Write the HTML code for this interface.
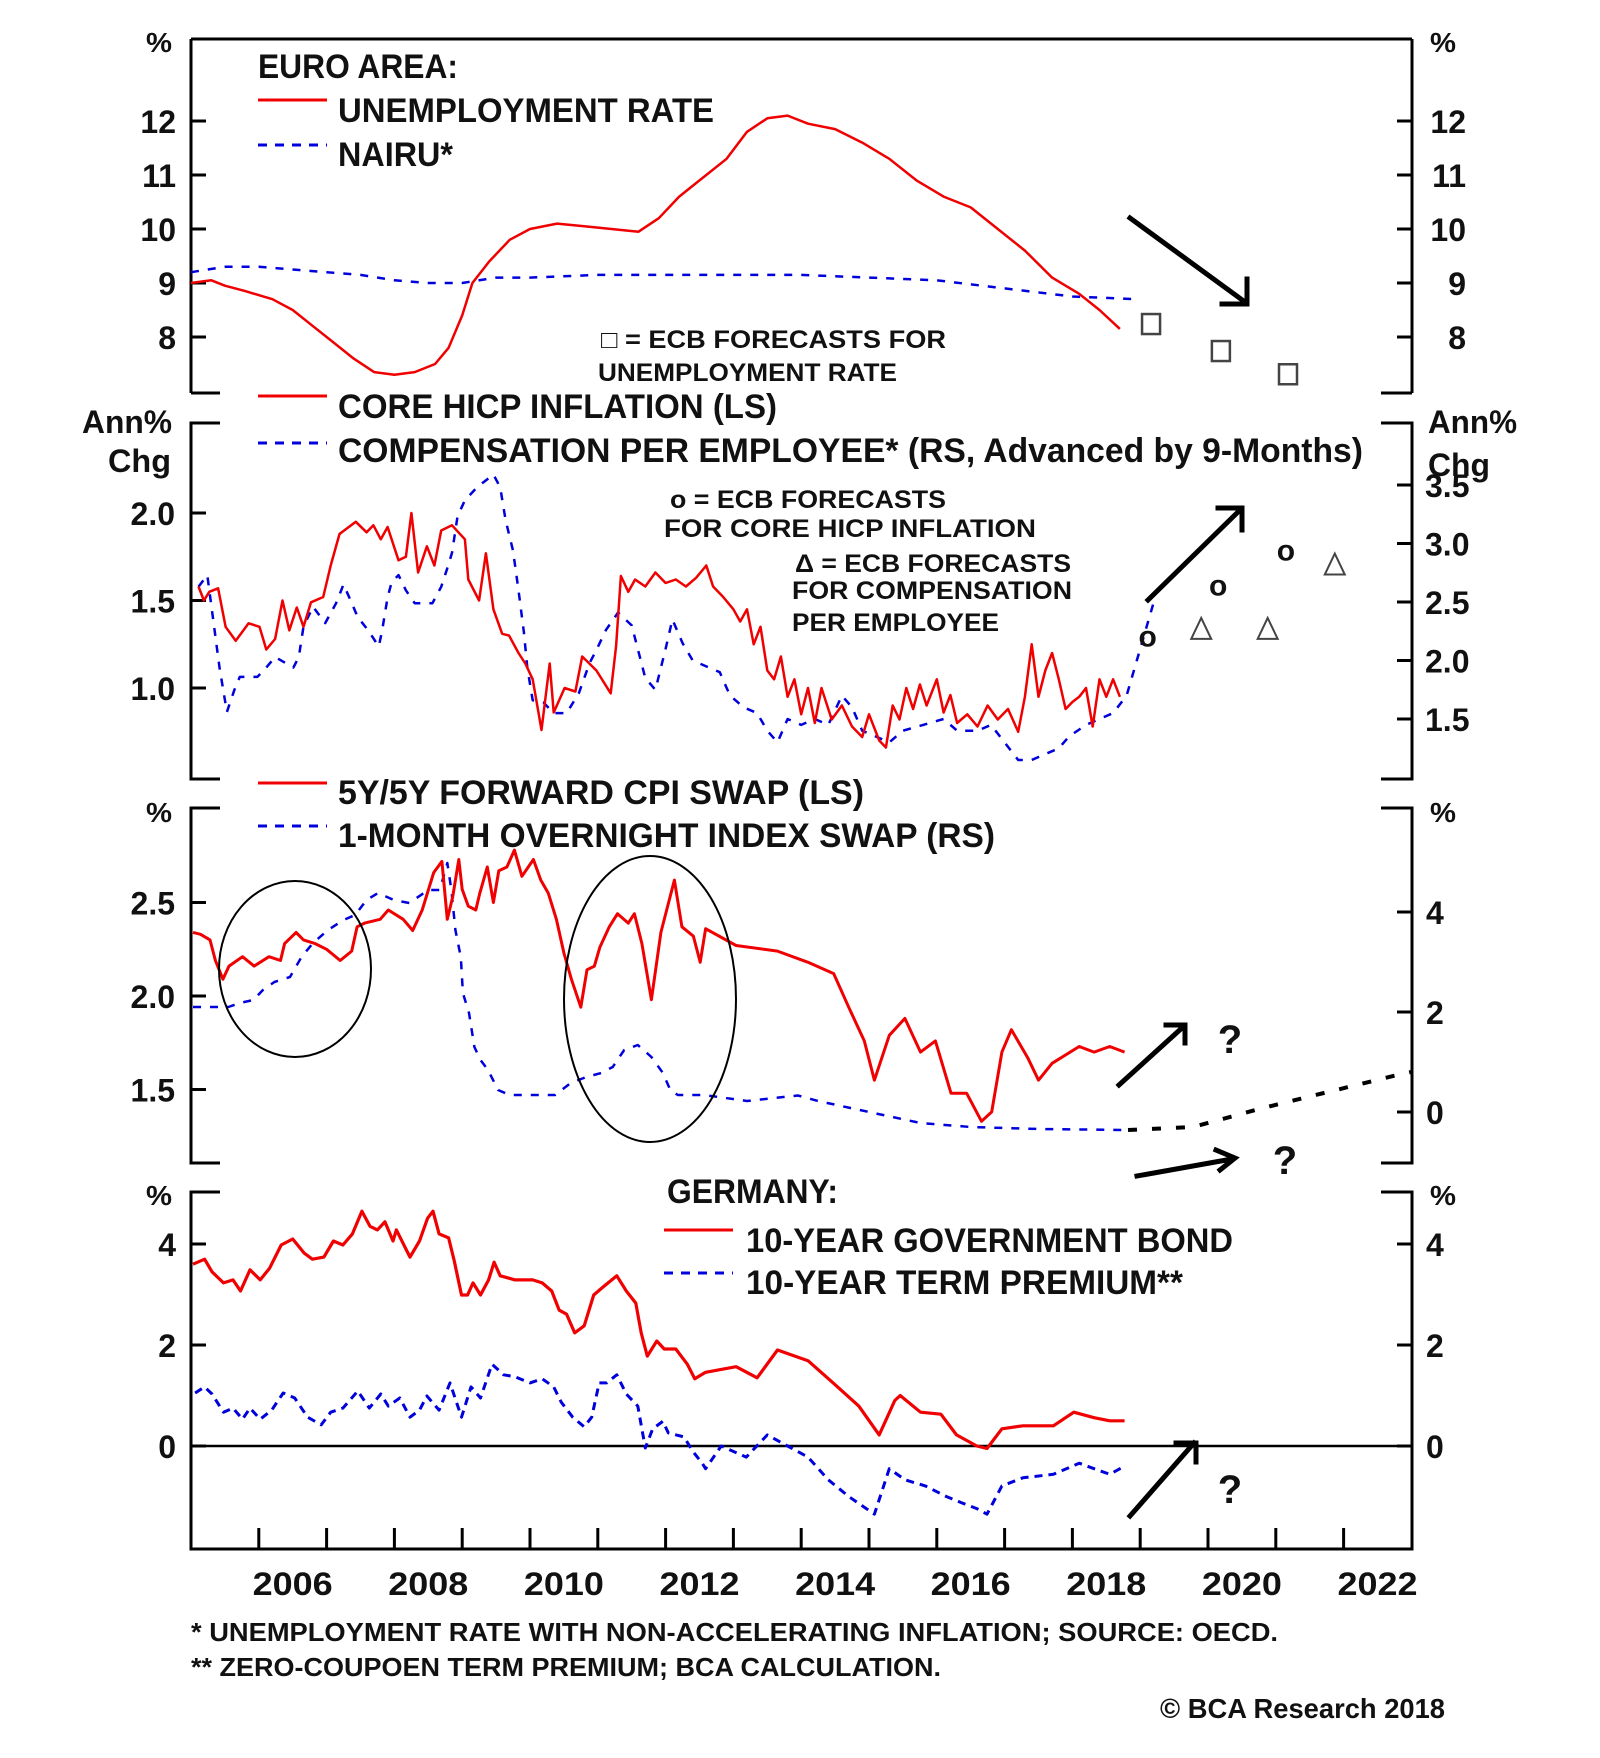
<!DOCTYPE html>
<html><head><meta charset="utf-8"><style>
html,body{margin:0;padding:0;background:#fff;}
svg{display:block;font-family:"Liberation Sans",Arial,sans-serif;font-weight:bold;}
</style></head><body>
<svg id="chart" width="1600" height="1758" viewBox="0 0 1600 1758" xmlns="http://www.w3.org/2000/svg">
<rect x="0" y="0" width="1600" height="1758" fill="#fff"/>
<g id="frames" stroke="#000" stroke-width="3" fill="none">
  <!-- panel 1 -->
  <path d="M191,39 H1412 M191,39 V393 M1412,39 V393 M191,393 H220 M1381,393 H1412"/>
  <!-- panel 2 -->
  <path d="M220,423 H191 V779 H220 M1381,423 H1412 V779 H1381"/>
  <!-- panel 3 -->
  <path d="M220,808 H191 V1163 H220 M1381,808 H1412 V1163 H1381"/>
  <!-- panel 4 -->
  <path d="M220,1192 H191 V1549 H1412 V1192 H1381"/>
</g>
<g id="ticks" stroke="#000" stroke-width="3"></g>
<g id="labels" font-size="32" fill="#111"></g>
<g id="marks"></g>

<!-- titles and legends -->
<g fill="#111">
<text x="146" y="52" font-size="28" textLength="26" lengthAdjust="spacingAndGlyphs">%</text>
<text x="1430" y="52" font-size="28" textLength="26" lengthAdjust="spacingAndGlyphs">%</text>
<text x="258" y="78" font-size="34" textLength="200" lengthAdjust="spacingAndGlyphs">EURO AREA:</text>
<line x1="258" y1="100" x2="327" y2="100" stroke="#f00000" stroke-width="3"/>
<text x="338" y="122" font-size="34" textLength="376" lengthAdjust="spacingAndGlyphs">UNEMPLOYMENT RATE</text>
<line x1="258" y1="145" x2="327" y2="145" stroke="#0000dd" stroke-width="3" stroke-dasharray="9 8"/>
<text x="338" y="166" font-size="34" textLength="115" lengthAdjust="spacingAndGlyphs">NAIRU*</text>
<text x="601" y="348" font-size="25" textLength="345" lengthAdjust="spacingAndGlyphs">□ = ECB FORECASTS FOR</text>
<text x="598" y="381" font-size="25" textLength="299" lengthAdjust="spacingAndGlyphs">UNEMPLOYMENT RATE</text>

<line x1="258" y1="396" x2="327" y2="396" stroke="#f00000" stroke-width="3"/>
<text x="338" y="418" font-size="34" textLength="439" lengthAdjust="spacingAndGlyphs">CORE HICP INFLATION (LS)</text>
<line x1="258" y1="443" x2="327" y2="443" stroke="#0000dd" stroke-width="3" stroke-dasharray="9 8"/>
<text x="338" y="462" font-size="34" textLength="1025" lengthAdjust="spacingAndGlyphs">COMPENSATION PER EMPLOYEE* (RS, Advanced by 9-Months)</text>
<text x="82" y="433" font-size="32" textLength="90" lengthAdjust="spacingAndGlyphs">Ann%</text>
<text x="108" y="472" font-size="32" textLength="63" lengthAdjust="spacingAndGlyphs">Chg</text>
<text x="1428" y="433" font-size="32" textLength="89" lengthAdjust="spacingAndGlyphs">Ann%</text>
<text x="1428" y="476" font-size="32" textLength="62" lengthAdjust="spacingAndGlyphs">Chg</text>
<text x="670" y="508" font-size="25" textLength="276" lengthAdjust="spacingAndGlyphs">o = ECB FORECASTS</text>
<text x="664" y="537" font-size="25" textLength="372" lengthAdjust="spacingAndGlyphs">FOR CORE HICP INFLATION</text>
<text x="795" y="572" font-size="25" textLength="276" lengthAdjust="spacingAndGlyphs">Δ = ECB FORECASTS</text>
<text x="792" y="599" font-size="25" textLength="280" lengthAdjust="spacingAndGlyphs">FOR COMPENSATION</text>
<text x="792" y="631" font-size="25" textLength="207" lengthAdjust="spacingAndGlyphs">PER EMPLOYEE</text>

<line x1="258" y1="783" x2="327" y2="783" stroke="#f00000" stroke-width="3"/>
<text x="338" y="804" font-size="34" textLength="526" lengthAdjust="spacingAndGlyphs">5Y/5Y FORWARD CPI SWAP (LS)</text>
<line x1="258" y1="826" x2="327" y2="826" stroke="#0000dd" stroke-width="3" stroke-dasharray="9 8"/>
<text x="338" y="847" font-size="34" textLength="657" lengthAdjust="spacingAndGlyphs">1-MONTH OVERNIGHT INDEX SWAP (RS)</text>
<text x="146" y="822" font-size="28" textLength="26" lengthAdjust="spacingAndGlyphs">%</text>
<text x="1430" y="822" font-size="28" textLength="26" lengthAdjust="spacingAndGlyphs">%</text>

<text x="146" y="1205" font-size="28" textLength="26" lengthAdjust="spacingAndGlyphs">%</text>
<text x="1430" y="1205" font-size="28" textLength="26" lengthAdjust="spacingAndGlyphs">%</text>
<text x="667" y="1203" font-size="34" textLength="171" lengthAdjust="spacingAndGlyphs">GERMANY:</text>
<line x1="664" y1="1230" x2="733" y2="1230" stroke="#f00000" stroke-width="3"/>
<text x="746" y="1252" font-size="34" textLength="487" lengthAdjust="spacingAndGlyphs">10-YEAR GOVERNMENT BOND</text>
<line x1="664" y1="1273" x2="733" y2="1273" stroke="#0000dd" stroke-width="3" stroke-dasharray="9 8"/>
<text x="746" y="1294" font-size="34" textLength="437" lengthAdjust="spacingAndGlyphs">10-YEAR TERM PREMIUM**</text>

<text x="191" y="1641" font-size="26" textLength="1087" lengthAdjust="spacingAndGlyphs">*  UNEMPLOYMENT RATE WITH NON-ACCELERATING INFLATION; SOURCE: OECD.</text>
<text x="191" y="1676" font-size="26" textLength="750" lengthAdjust="spacingAndGlyphs">** ZERO-COUPOEN TERM PREMIUM; BCA CALCULATION.</text>
<text x="1160" y="1718" font-size="28" textLength="285" lengthAdjust="spacingAndGlyphs">© BCA Research 2018</text>

<text x="1230" y="1053" font-size="40" text-anchor="middle">?</text>
<text x="1285" y="1174" font-size="40" text-anchor="middle">?</text>
<text x="1230" y="1503" font-size="40" text-anchor="middle">?</text>
</g>

<g stroke="#000" stroke-width="2" fill="none">
<ellipse cx="295" cy="969" rx="76" ry="88"/>
<ellipse cx="650" cy="999" rx="86" ry="143"/>
</g>
<g stroke="#000" stroke-width="5" fill="none" stroke-linecap="square">
<path d="M1130,218 L1245,302 M1222,304 H1247 V279"/>
<path d="M1148,600 L1240,510 M1218,508 H1242 V530"/>
<path d="M1119,1085 L1183,1027 M1166,1025 H1185 V1043"/>
<path d="M1137,1176 L1232,1159 M1216,1150 L1235,1158 L1220,1170"/>
<path d="M1130,1516 L1194,1443 M1176,1443 H1196 V1462"/>
</g>

<script>
// ---- shared x-axis ----
const yearTicks = [2006,2007,2008,2009,2010,2011,2012,2013,2014,2015,2016,2017,2018,2019,2020,2021,2022];
const yearLabels = [2006,2008,2010,2012,2014,2016,2018,2020,2022];

// ---- panel 1: unemployment ----
const unempX = [2005.0,2005.3,2005.5,2005.8,2006.2,2006.5,2006.8,2007.1,2007.4,2007.7,2008.0,2008.3,2008.6,2008.8,2009.0,2009.15,2009.4,2009.7,2010.0,2010.4,2010.8,2011.2,2011.6,2011.9,2012.2,2012.5,2012.9,2013.2,2013.5,2013.8,2014.1,2014.5,2014.9,2015.3,2015.7,2016.1,2016.5,2016.9,2017.3,2017.7,2018.1,2018.4,2018.7];
const unempY = [9.0,9.05,8.95,8.85,8.7,8.5,8.2,7.9,7.6,7.35,7.3,7.35,7.5,7.8,8.4,9.0,9.4,9.8,10.0,10.1,10.05,10.0,9.95,10.2,10.6,10.9,11.3,11.8,12.05,12.1,11.95,11.85,11.6,11.3,10.9,10.6,10.4,10.0,9.6,9.1,8.8,8.5,8.15];
const nairuX = [2005.0,2005.5,2006.0,2006.5,2007.0,2007.5,2008.0,2008.5,2009.0,2009.5,2010.0,2011.0,2012.0,2013.0,2014.0,2015.0,2016.0,2017.0,2018.0,2018.95];
const nairuY = [9.2,9.3,9.3,9.25,9.2,9.15,9.05,9.0,9.0,9.1,9.1,9.15,9.15,9.15,9.15,9.1,9.05,8.9,8.75,8.7];
const ecbUnempX = [2019.16,2020.19,2021.18];
const ecbUnempY = [8.24,7.74,7.31];
const p1Ticks = [12,11,10,9,8];

// ---- panel 2: core inflation & compensation ----
const coreX = [2005.11,2005.19,2005.27,2005.40,2005.51,2005.66,2005.85,2006.01,2006.11,2006.24,2006.35,2006.45,2006.56,2006.66,2006.77,2006.95,2007.06,2007.19,2007.43,2007.59,2007.69,2007.80,2007.90,2008.06,2008.17,2008.25,2008.35,2008.48,2008.59,2008.69,2008.85,2009.04,2009.09,2009.25,2009.35,2009.46,2009.59,2009.69,2009.83,2009.93,2010.04,2010.17,2010.29,2010.35,2010.51,2010.67,2010.77,2010.98,2011.19,2011.27,2011.34,2011.45,2011.55,2011.7,2011.85,2012.0,2012.15,2012.3,2012.45,2012.6,2012.7,2012.85,2013.0,2013.1,2013.2,2013.3,2013.4,2013.5,2013.6,2013.7,2013.8,2013.9,2014.0,2014.1,2014.2,2014.3,2014.45,2014.6,2014.75,2014.9,2015.0,2015.15,2015.25,2015.35,2015.45,2015.55,2015.65,2015.75,2015.85,2016.0,2016.1,2016.2,2016.3,2016.45,2016.6,2016.75,2016.9,2017.05,2017.2,2017.3,2017.4,2017.5,2017.6,2017.7,2017.8,2017.9,2018.0,2018.1,2018.2,2018.3,2018.4,2018.5,2018.6,2018.7];
const coreY = [1.58,1.50,1.55,1.57,1.35,1.27,1.37,1.35,1.22,1.28,1.50,1.33,1.46,1.35,1.49,1.52,1.70,1.88,1.95,1.89,1.93,1.85,1.92,1.73,1.75,2.0,1.66,1.81,1.70,1.90,1.93,1.85,1.62,1.50,1.77,1.45,1.31,1.30,1.20,1.14,1.05,0.76,1.14,0.86,1.0,0.98,1.18,1.10,0.97,1.24,1.64,1.55,1.62,1.58,1.66,1.6,1.62,1.58,1.63,1.70,1.58,1.52,1.45,1.38,1.45,1.25,1.35,1.1,1.05,1.18,0.95,1.05,0.85,1.0,0.8,1.0,0.82,0.9,0.78,0.72,0.85,0.7,0.66,0.9,0.82,1.0,0.88,1.02,0.9,1.05,0.86,0.96,0.8,0.85,0.78,0.9,0.82,0.88,0.75,0.95,1.25,0.95,1.1,1.2,1.05,0.88,0.92,0.95,1.0,0.78,1.05,0.95,1.05,0.95];
const compX = [2005.11,2005.24,2005.34,2005.42,2005.53,2005.64,2005.72,2005.98,2006.11,2006.24,2006.51,2006.59,2006.66,2006.80,2006.98,2007.14,2007.25,2007.35,2007.46,2007.61,2007.77,2007.82,2007.90,2007.96,2008.06,2008.17,2008.30,2008.56,2008.69,2008.77,2008.85,2008.93,2009.04,2009.22,2009.46,2009.56,2009.64,2009.75,2009.83,2009.91,2009.96,2010.04,2010.20,2010.35,2010.54,2010.72,2010.88,2010.98,2011.12,2011.30,2011.5,2011.7,2011.85,2012.0,2012.1,2012.25,2012.4,2012.6,2012.8,2012.95,2013.15,2013.35,2013.5,2013.65,2013.8,2014.0,2014.2,2014.4,2014.6,2014.75,2014.9,2015.1,2015.3,2015.5,2015.8,2016.1,2016.3,2016.6,2016.8,2017.0,2017.2,2017.4,2017.6,2017.8,2017.95,2018.2,2018.4,2018.6,2018.8,2018.95,2019.1,2019.2];
const compY = [2.63,2.73,2.29,1.94,1.56,1.75,1.86,1.86,1.94,2.03,1.94,2.03,2.29,2.46,2.32,2.49,2.65,2.52,2.37,2.26,2.12,2.26,2.54,2.67,2.73,2.60,2.49,2.49,2.63,2.77,2.92,3.23,3.37,3.48,3.59,3.48,3.20,2.94,2.60,2.24,1.94,1.66,1.64,1.55,1.55,1.72,1.98,2.09,2.26,2.41,2.3,1.85,1.75,2.1,2.35,2.15,2.0,1.95,1.9,1.7,1.6,1.55,1.4,1.3,1.5,1.45,1.5,1.45,1.7,1.6,1.4,1.35,1.3,1.4,1.45,1.5,1.4,1.4,1.45,1.3,1.15,1.15,1.2,1.25,1.35,1.45,1.5,1.55,1.7,2.0,2.3,2.5];
const ecbCoreX = [2019.11,2020.15,2021.15];
const ecbCoreY = [1.29,1.58,1.78];
const ecbCompX = [2019.9,2020.88,2021.87];
const ecbCompY = [2.27,2.27,2.82];
const p2LeftTicks = [2.0,1.5,1.0];
const p2LeftLabels = ['2.0','1.5','1.0'];
const p2RightTicks = [3.5,3.0,2.5,2.0,1.5];
const p2RightLabels = ['3.5','3.0','2.5','2.0','1.5'];

// ---- panel 3: 5y5y & OIS ----
const swapX = [2005.03,2005.14,2005.28,2005.36,2005.47,2005.56,2005.76,2005.93,2006.15,2006.32,2006.38,2006.55,2006.66,2006.83,2007.0,2007.2,2007.37,2007.45,2007.56,2007.79,2007.91,2008.13,2008.27,2008.41,2008.58,2008.70,2008.78,2008.86,2008.95,2009.0,2009.09,2009.20,2009.26,2009.37,2009.46,2009.54,2009.66,2009.77,2009.88,2010.05,2010.16,2010.27,2010.39,2010.50,2010.61,2010.75,2010.84,2010.95,2011.03,2011.17,2011.29,2011.45,2011.54,2011.65,2011.79,2011.93,2012.13,2012.24,2012.41,2012.51,2012.59,2013.04,2013.65,2014.1,2014.48,2014.7,2014.93,2015.08,2015.3,2015.53,2015.76,2015.98,2016.21,2016.44,2016.66,2016.81,2016.96,2017.1,2017.34,2017.5,2017.7,2018.1,2018.32,2018.55,2018.77];
const swapY = [2.34,2.33,2.30,2.19,2.09,2.16,2.21,2.16,2.21,2.19,2.28,2.34,2.30,2.28,2.25,2.19,2.24,2.37,2.39,2.41,2.46,2.41,2.35,2.46,2.66,2.72,2.41,2.53,2.73,2.57,2.48,2.46,2.55,2.69,2.50,2.67,2.69,2.78,2.64,2.73,2.62,2.55,2.41,2.23,2.09,1.94,2.14,2.16,2.26,2.37,2.44,2.39,2.44,2.28,1.98,2.34,2.62,2.37,2.32,2.18,2.36,2.27,2.24,2.18,2.12,1.94,1.76,1.55,1.79,1.88,1.70,1.76,1.48,1.48,1.33,1.38,1.70,1.82,1.67,1.55,1.64,1.73,1.70,1.73,1.70];
const oisX = [2005.03,2005.55,2005.72,2005.92,2006.06,2006.23,2006.46,2006.63,2006.80,2007.02,2007.25,2007.42,2007.59,2007.76,2007.99,2008.22,2008.50,2008.67,2008.78,2008.84,2008.90,2008.98,2009.01,2009.10,2009.18,2009.27,2009.38,2009.53,2009.70,2010.37,2010.60,2010.83,2011.05,2011.22,2011.39,2011.59,2011.79,2011.96,2012.07,2012.18,2012.57,2013.2,2013.95,2014.25,2015.0,2015.76,2016.5,2017.5,2018.8];
const oisY = [2.1,2.1,2.18,2.24,2.44,2.6,2.7,3.1,3.38,3.64,3.84,3.94,4.24,4.38,4.24,4.18,4.44,4.44,4.98,4.44,3.64,3.1,2.38,1.98,1.3,1.04,0.84,0.44,0.34,0.34,0.58,0.7,0.78,0.9,1.24,1.34,1.1,0.78,0.44,0.34,0.34,0.22,0.33,0.22,0.0,-0.22,-0.3,-0.34,-0.36];
const oisProjX = [2018.82,2019.78,2020.81,2021.71,2022.79,2023.0];
const oisProjY = [-0.36,-0.3,0.08,0.38,0.74,0.8];
const p3LeftTicks = [2.5,2.0,1.5];
const p3LeftLabels = ['2.5','2.0','1.5'];
const p3RightTicks = [4,2,0];

// ---- panel 4: Germany ----
const bundX = [2005.03,2005.20,2005.31,2005.48,2005.62,2005.73,2005.87,2006.02,2006.16,2006.33,2006.50,2006.67,2006.79,2006.96,2007.10,2007.24,2007.38,2007.52,2007.64,2007.75,2007.86,2007.98,2008.03,2008.17,2008.23,2008.37,2008.49,2008.57,2008.66,2008.80,2008.88,2008.99,2009.08,2009.16,2009.27,2009.39,2009.47,2009.56,2009.78,2010.04,2010.18,2010.32,2010.43,2010.54,2010.66,2010.80,2010.94,2011.08,2011.28,2011.42,2011.56,2011.64,2011.73,2011.87,2011.98,2012.15,2012.32,2012.43,2012.59,2013.04,2013.35,2013.65,2014.1,2014.48,2014.85,2015.15,2015.38,2015.46,2015.76,2016.06,2016.29,2016.59,2016.74,2016.96,2017.27,2017.72,2018.02,2018.32,2018.55,2018.77];
const bundY = [3.6,3.70,3.45,3.23,3.29,3.07,3.49,3.29,3.52,3.98,4.10,3.82,3.70,3.74,4.06,3.98,4.20,4.65,4.35,4.28,4.44,4.06,4.28,3.90,3.74,4.06,4.51,4.65,4.20,4.12,3.68,2.99,2.99,3.23,2.99,3.29,3.64,3.37,3.29,3.29,3.23,3.07,2.69,2.61,2.24,2.38,2.99,3.15,3.37,3.07,2.83,2.24,1.78,2.08,1.92,1.92,1.62,1.33,1.46,1.57,1.35,1.9,1.69,1.24,0.79,0.22,0.9,1.0,0.67,0.63,0.22,0.0,-0.05,0.34,0.4,0.4,0.67,0.56,0.5,0.5];
const tpX = [2005.06,2005.20,2005.31,2005.48,2005.62,2005.76,2005.87,2006.02,2006.19,2006.36,2006.53,2006.72,2006.92,2007.06,2007.24,2007.46,2007.63,2007.80,2007.91,2008.08,2008.23,2008.37,2008.48,2008.66,2008.82,2008.99,2009.13,2009.27,2009.44,2009.61,2009.78,2010.00,2010.18,2010.35,2010.46,2010.63,2010.80,2010.91,2011.02,2011.13,2011.28,2011.42,2011.59,2011.70,2011.81,2011.96,2012.04,2012.27,2012.41,2012.54,2012.59,2012.82,2013.19,2013.5,2013.8,2014.1,2014.4,2014.7,2015.08,2015.3,2015.53,2015.83,2016.14,2016.36,2016.59,2016.74,2016.96,2017.27,2017.72,2018.1,2018.32,2018.55,2018.77];
const tpY = [1.05,1.17,1.03,0.67,0.75,0.53,0.75,0.53,0.71,1.05,0.95,0.57,0.42,0.67,0.75,1.09,0.75,1.03,0.79,0.95,0.57,0.71,0.99,0.71,1.25,0.57,1.17,0.95,1.62,1.41,1.37,1.25,1.33,1.17,0.87,0.57,0.38,0.57,1.25,1.25,1.41,1.03,0.79,-0.04,0.34,0.49,0.26,0.18,-0.12,-0.34,-0.45,0.0,-0.22,0.22,0.0,-0.22,-0.67,-1.0,-1.35,-0.45,-0.67,-0.79,-1.0,-1.12,-1.24,-1.35,-0.79,-0.63,-0.56,-0.34,-0.45,-0.56,-0.4];
const p4Ticks = [4,2,0];

// ---- scales ----
const X = t => 191 + (t - 2005) * 67.8;
const yP1 = v => 337 - (v - 8) * 54;
const yP2L = v => 688 - (v - 1) * 175;
const yP2R = v => 719 - (v - 1.5) * 117;
const yP3L = v => 996 - (v - 2) * 187;
const yP3R = v => 1112 - v * 50;
const yP4 = v => 1446 - v * 50.5;

const NS = 'http://www.w3.org/2000/svg';
const marks = document.getElementById('marks');
const ticksG = document.getElementById('ticks');
const labelsG = document.getElementById('labels');

function mk(tag, parent) { const e = document.createElementNS(NS, tag); parent.appendChild(e); return e; }

function series(xs, ys, ys2px, color, width, dash, name) {
  let d = '';
  for (let i = 0; i < xs.length; i++) d += (i ? 'L' : 'M') + X(xs[i]).toFixed(1) + ',' + ys2px(ys[i]).toFixed(1);
  const p = mk('path', marks);
  p.setAttribute('d', d);
  p.setAttribute('fill', 'none');
  p.setAttribute('stroke', color);
  p.setAttribute('stroke-width', width);
  p.setAttribute('stroke-linejoin', 'round');
  if (dash) p.setAttribute('stroke-dasharray', dash);
  
  
}

function tick(x1, y1, x2, y2, name) {
  const l = mk('line', ticksG);
  l.setAttribute('x1', x1); l.setAttribute('y1', y1); l.setAttribute('x2', x2); l.setAttribute('y2', y2);
  
  
}
function label(x, y, txt, anchor, name) {
  const t = mk('text', labelsG);
  t.setAttribute('x', x); t.setAttribute('y', y); t.setAttribute('text-anchor', anchor);
  t.textContent = txt;
  
  
}

// y ticks and labels
p1Ticks.forEach(v => {
  const y = yP1(v);
  tick(191, y, 206, y, 'p1-left-tick');
  tick(1397, y, 1412, y, 'p1-right-tick');
  label(176, y + 12, String(v), 'end', 'p1-left-label');
  label(1466, y + 12, String(v), 'end', 'p1-right-label');
});
p2LeftTicks.forEach((v, i) => {
  const y = yP2L(v);
  tick(191, y, 206, y, 'p2-left-tick');
  label(175, y + 12, p2LeftLabels[i], 'end', 'p2-left-label');
});
p2RightTicks.forEach((v, i) => {
  const y = yP2R(v);
  tick(1397, y, 1412, y, 'p2-right-tick');
  label(1425, y + 12, p2RightLabels[i], 'start', 'p2-right-label');
});
p3LeftTicks.forEach((v, i) => {
  const y = yP3L(v);
  tick(191, y, 206, y, 'p3-left-tick');
  label(175, y + 12, p3LeftLabels[i], 'end', 'p3-left-label');
});
p3RightTicks.forEach(v => {
  const y = yP3R(v);
  tick(1397, y, 1412, y, 'p3-right-tick');
  label(1426, y + 12, String(v), 'start', 'p3-right-label');
});
p4Ticks.forEach(v => {
  const y = yP4(v);
  tick(191, y, 206, y, 'p4-left-tick');
  tick(1397, y, 1412, y, 'p4-right-tick');
  label(176, y + 12, String(v), 'end', 'p4-left-label');
  label(1426, y + 12, String(v), 'start', 'p4-right-label');
});
yearTicks.forEach(yr => tick(X(yr), 1549, X(yr), 1528, 'x-tick'));
yearLabels.forEach(yr => {
  const t = mk('text', labelsG);
  t.setAttribute('x', X(yr + 0.5)); t.setAttribute('y', 1595); t.setAttribute('text-anchor', 'middle');
  t.setAttribute('textLength', 80); t.setAttribute('lengthAdjust', 'spacingAndGlyphs');
  t.textContent = String(yr);
  
  
});

// zero line panel 4
const zl = mk('line', marks);
zl.setAttribute('x1', 191); zl.setAttribute('x2', 1412);
zl.setAttribute('y1', yP4(0)); zl.setAttribute('y2', yP4(0));
zl.setAttribute('stroke', '#000'); zl.setAttribute('stroke-width', 2.5);



// series
series(nairuX, nairuY, yP1, '#0000dd', 2.5, '8 9', 'nairu-line');
series(unempX, unempY, yP1, '#f00000', 2.5, null, 'unemployment-line');
series(compX, compY, yP2R, '#0000dd', 2.5, '8 9', 'compensation-line');
series(coreX, coreY, yP2L, '#f00000', 2.5, null, 'core-hicp-line');
series(oisX, oisY, yP3R, '#0000dd', 2.5, '8 9', 'ois-line');
series(oisProjX, oisProjY, yP3R, '#000', 4, '9 15', 'ois-projection-line');
series(swapX, swapY, yP3L, '#f00000', 3, null, 'forward-swap-line');
series(tpX, tpY, yP4, '#0000dd', 3, '8 6', 'term-premium-line');
series(bundX, bundY, yP4, '#f00000', 3.2, null, 'bund-yield-line');

// ECB forecast markers
ecbUnempX.forEach((t, i) => {
  const r = mk('rect', marks);
  r.setAttribute('x', X(t) - 9); r.setAttribute('y', yP1(ecbUnempY[i]) - 10);
  r.setAttribute('width', 18); r.setAttribute('height', 20);
  r.setAttribute('fill', 'none'); r.setAttribute('stroke', '#444'); r.setAttribute('stroke-width', 2.5);
  
  
});
ecbCoreX.forEach((t, i) => {
  const c = mk('text', marks);
  c.setAttribute('x', X(t)); c.setAttribute('y', yP2L(ecbCoreY[i]) + 9);
  c.setAttribute('text-anchor', 'middle'); c.setAttribute('font-size', 30); c.setAttribute('fill', '#111');
  c.textContent = 'o';
  
  
});
ecbCompX.forEach((t, i) => {
  const x = X(t), y = yP2R(ecbCompY[i]);
  const p = mk('path', marks);
  p.setAttribute('d', 'M' + (x - 10) + ',' + (y + 10) + 'L' + x + ',' + (y - 11) + 'L' + (x + 10) + ',' + (y + 10) + 'Z');
  p.setAttribute('fill', 'none'); p.setAttribute('stroke', '#444'); p.setAttribute('stroke-width', 2);
  
  
});
</script>
</svg>
</body></html>
